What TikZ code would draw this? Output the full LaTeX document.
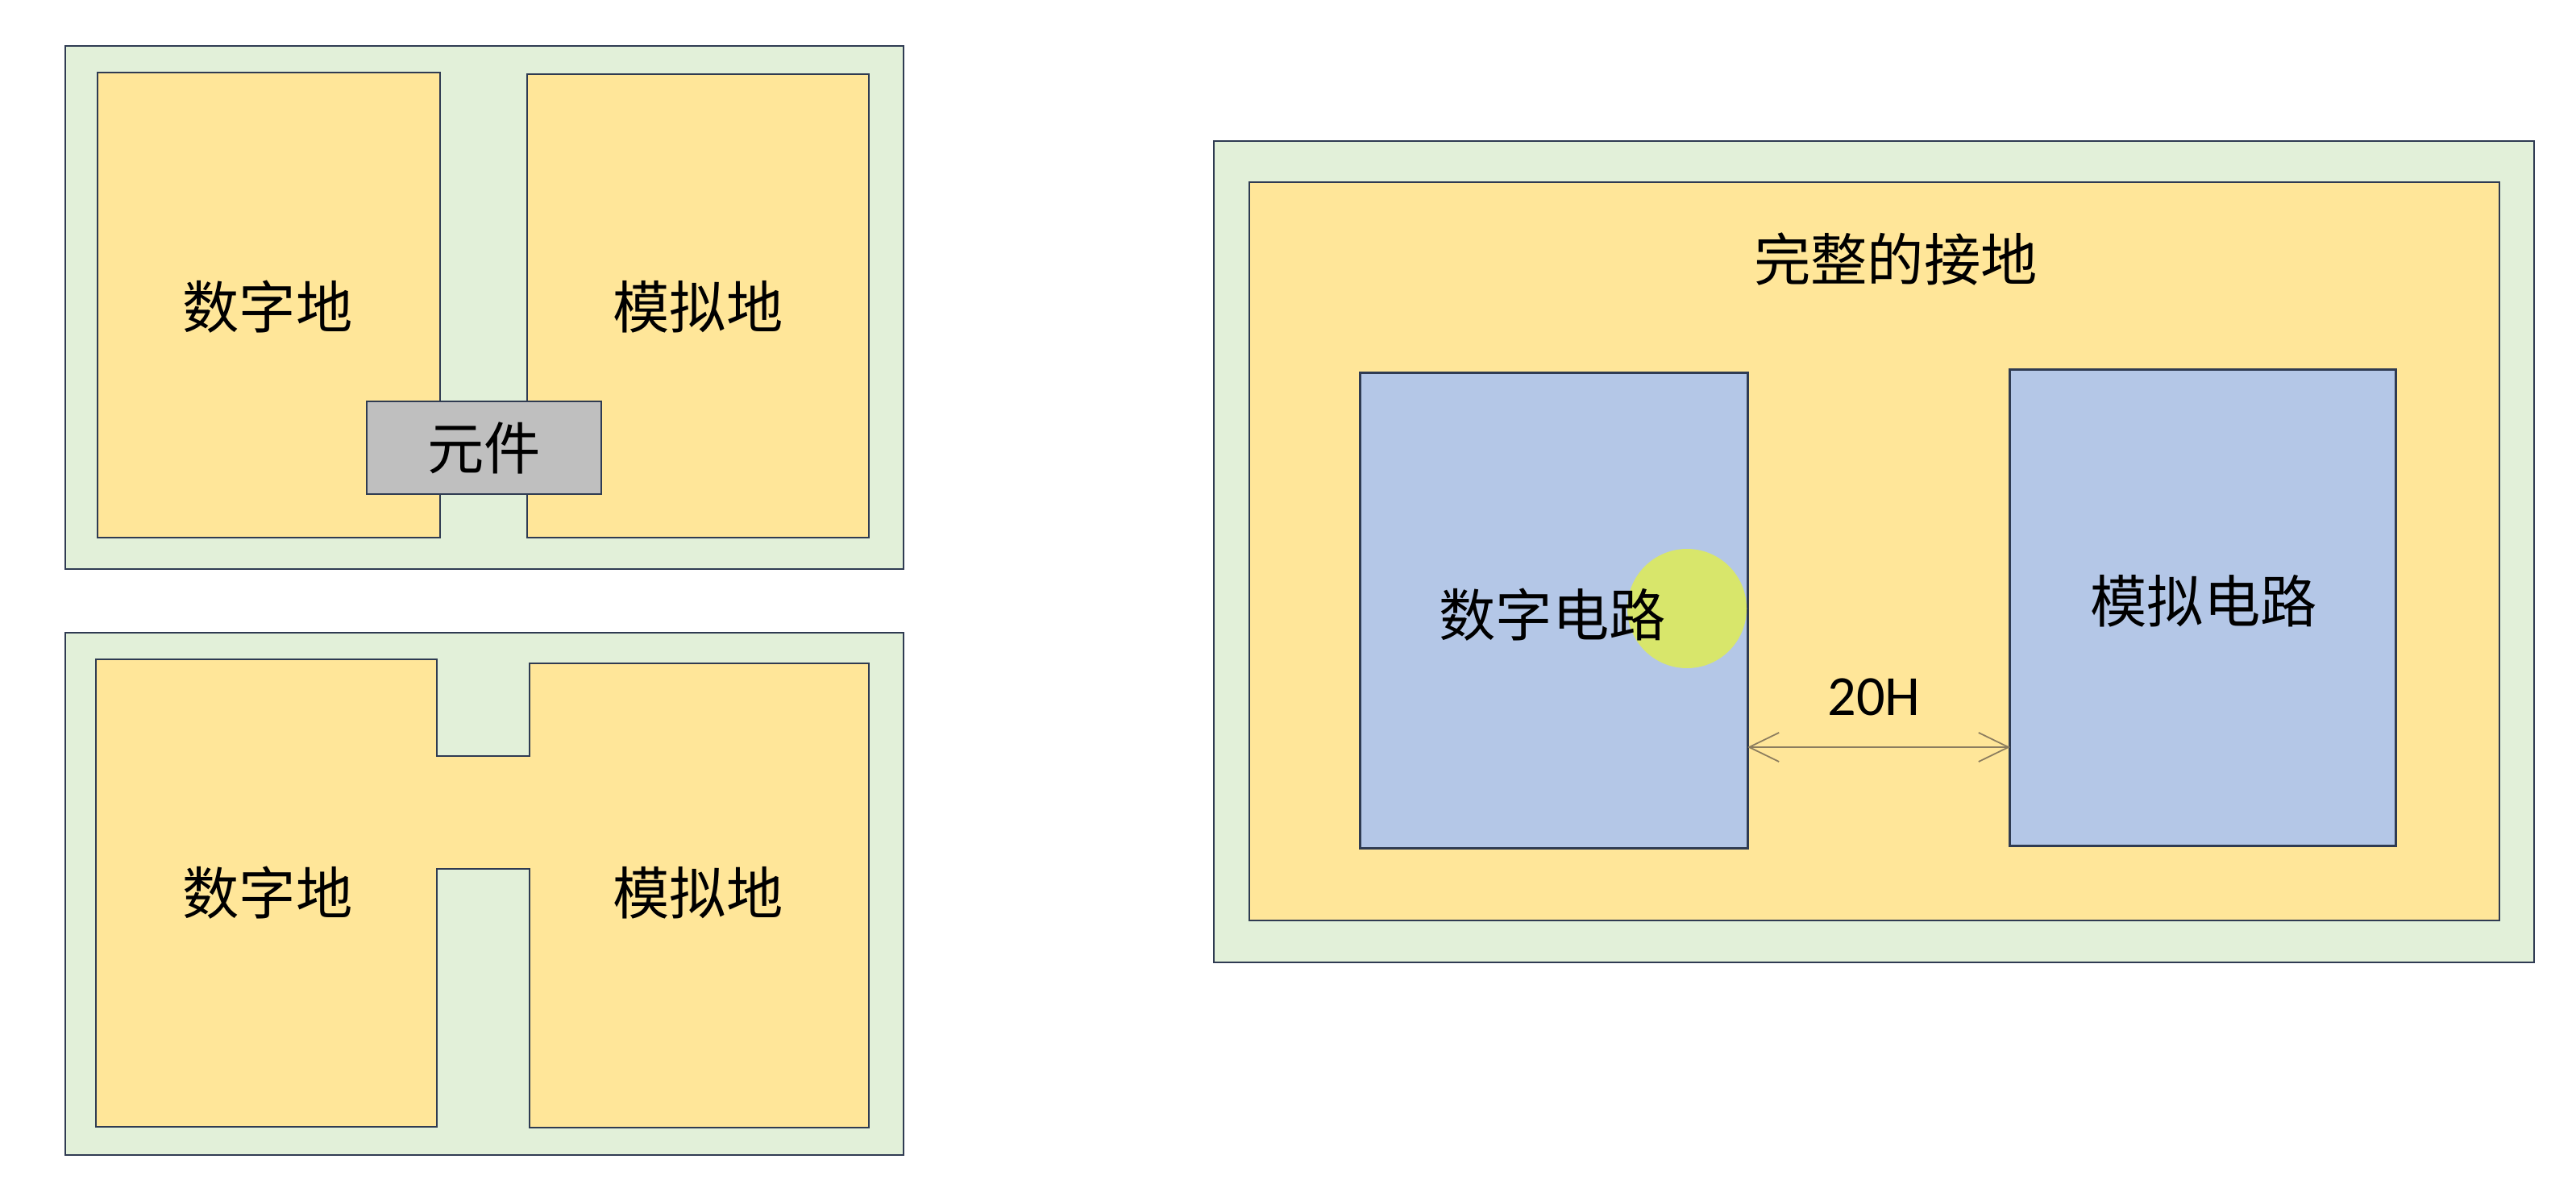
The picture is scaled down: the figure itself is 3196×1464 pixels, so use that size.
\documentclass[tikz,border=0pt]{standalone}
\usepackage{fontspec}
\newfontfamily\cjk{Noto Sans CJK SC}
\newfontfamily\lat{Carlito}
\usepackage{tikz}
\usetikzlibrary{arrows.meta}
\definecolor{boardgreen}{HTML}{E2F0D9}
\definecolor{planeyellow}{HTML}{FFE699}
\definecolor{circuitblue}{HTML}{B4C7E7}
\definecolor{partgray}{HTML}{BFBFBF}
\definecolor{edgenavy}{HTML}{2F3B52}
\definecolor{hotspot}{HTML}{D8E66B}
\definecolor{dimline}{HTML}{8C7D5E}
\tikzset{
    board/.style={fill=boardgreen, draw=edgenavy, line width=0.8pt},
    plane/.style={fill=planeyellow, draw=edgenavy, line width=0.8pt},
    circuit/.style={fill=circuitblue, draw=edgenavy, line width=0.8pt, inner sep=0pt, outer sep=0pt},
    part/.style={fill=partgray, draw=edgenavy, line width=0.8pt, inner sep=0pt, outer sep=0pt,
        minimum width=2.91cm, minimum height=1.15cm, font=\cjk\fontsize{20}{24}\selectfont},
    label/.style={font=\cjk\fontsize{20}{24}\selectfont, inner sep=0pt},
    dim/.style={draw=dimline, line width=0.5pt,
        {Straight Barb[length=3.7mm,width=3.6mm]}-{Straight Barb[length=3.7mm,width=3.6mm]}},
}

\begin{document}
\begin{tikzpicture}[x=0.01cm, y=-0.01cm]
\useasboundingbox (0,0) rectangle (3196,1464);
\fill[white] (0,0) rectangle (3196,1464);
\draw[board] (81,57) rectangle (1121,706);
\draw[plane] (121,90) rectangle (546,667);
\draw[plane] (654,92) rectangle (1078,667);
\node[part] (yj) at (600.5,555.5) {元件};
\node[label] (sz1) at (332,381) {数字地};
\node[label] (mn1) at (866,381) {模拟地};
\draw[board] (81,785) rectangle (1121,1433);
\draw[plane] (119,818) -- (542,818) -- (542,938) -- (657,938) -- (657,823) -- (1078,823)
    -- (1078,1399) -- (657,1399) -- (657,1078) -- (542,1078) -- (542,1398) -- (119,1398) -- cycle;
\node[label] (sz2) at (332,1108) {数字地};
\node[label] (mn2) at (866,1108) {模拟地};
\draw[board] (1506,175) rectangle (3144,1194);
\draw[plane] (1550,226) rectangle (3101,1142);
\node[label] (gnd) at (2352,322) {完整的接地};
\node[circuit, minimum width=4.8cm, minimum height=5.89cm] (dc) at (1928,757.5) {};
\node[circuit, minimum width=4.78cm, minimum height=5.9cm] (ac) at (2733,754) {};
\fill[hotspot] (2093,755) circle (74);
\node[label] (dct) at (1926,763) {数字电路};
\node[label] (act) at (2734,746) {模拟电路};
\coordinate (lvl) at (0,927);
\draw[dim] (dc.east |- lvl) -- (ac.west |- lvl);
\node[font=\lat\fontsize{20}{24}\selectfont, inner sep=0pt] (gap) at (2325,865) {20H};
\end{tikzpicture}
\end{document}
